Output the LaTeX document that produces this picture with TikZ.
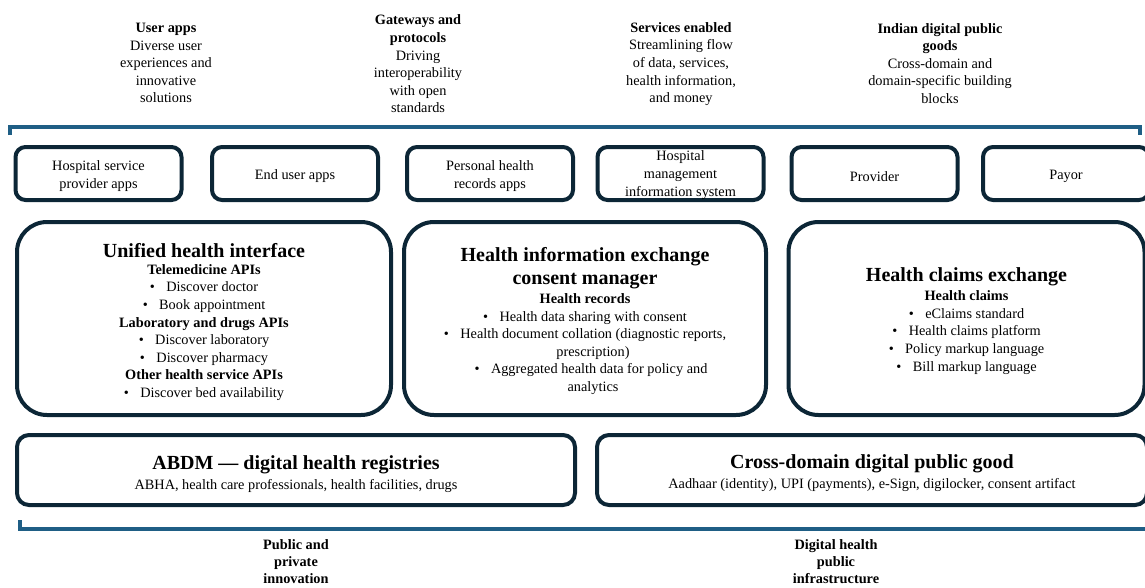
\documentclass[tikz,border=0pt]{standalone}
\usepackage{fontspec}
\setmainfont{Liberation Serif}
\definecolor{navy}{HTML}{0C2636}
\definecolor{bracketblue}{HTML}{1F5E85}
\newcommand{\bul}{\textbullet\hspace{0.8em}}
\begin{document}
\begin{tikzpicture}[x=1pt,y=-1pt,
  boxline/.style={draw=navy, line width=4pt, inner sep=0pt},
  appbox/.style={boxline, rounded corners=10pt, minimum width=166pt, minimum height=53pt},
  bigbox/.style={boxline, rounded corners=30pt, minimum height=193pt},
  regbox/.style={boxline, rounded corners=12pt, minimum height=70pt},
  body/.style={font=\fontsize{14.3}{17.6}\selectfont, align=center, inner sep=0pt, text=black},
  foot/.style={font=\fontsize{14.3}{17}\selectfont\bfseries, align=center, inner sep=0pt},
  apptext/.style={font=\fontsize{14.3}{18.5}\selectfont, align=center, inner sep=0pt},
  title/.style={font=\fontsize{20}{23}\selectfont\bfseries, align=center, inner sep=0pt},
  bracket/.style={draw=bracketblue, line width=3.6pt}]
\useasboundingbox (0,0) rectangle (1145,587);

% top headers
\node[body] (h1) at (166,63) {\textbf{User apps}\\Diverse user\\experiences and\\innovative\\solutions};
\node[body] (h2) at (418,64) {\textbf{Gateways and}\\\textbf{protocols}\\Driving\\interoperability\\with open\\standards};
\node[body] (h3) at (681,64) {\textbf{Services enabled}\\Streamlining flow\\of data, services,\\health information,\\and money};
\node[body] (h4) at (940,63.5) {\textbf{Indian digital public}\\\textbf{goods}\\Cross-domain and\\domain-specific building\\blocks};

% top bracket
\coordinate (tbL) at (10,135);
\coordinate (tbR) at (1140,135);
\draw[bracket] (tbL) -- (10,127) -- (1140,127) -- (tbR);

% row 1 app boxes
\node[appbox] (a1) at (98.5,173.5) {};
\node[appbox] (a2) at (295,173.5) {};
\node[appbox] (a3) at (490,173.5) {};
\node[appbox] (a4) at (680.5,173.5) {};
\node[appbox] (a5) at (874.5,173.5) {};
\node[appbox] (a6) at (1066,173.5) {};
\node[apptext] (t1) at (98.5,176) {Hospital service\\provider apps};
\node[apptext] (t2) at (295,176.5) {End user apps};
\node[apptext] (t3) at (490,176) {Personal health\\records apps};
\node[body] (t4) at (680.5,175) {Hospital\\management\\information system};
\node[apptext] (t5) at (874.5,176.5) {Provider};
\node[apptext] (t6) at (1066,176.5) {Payor};

% row 2 big boxes
\node[bigbox, minimum width=374pt] (bA) at (204,318.5) {};
\node[bigbox, minimum width=362pt] (bB) at (585,318.5) {};
\node[bigbox, minimum width=356pt] (bC) at (966.5,318.5) {};

\node[title] (tA) at (204,251) {Unified health interface};
\node[body] (lA) at (204,332.5) {\textbf{Telemedicine APIs}\\\bul Discover doctor\\\bul Book appointment\\\textbf{Laboratory and drugs APIs}\\\bul Discover laboratory\\\bul Discover pharmacy\\\textbf{Other health service APIs}\\\bul Discover bed availability};

\node[title] (tB) at (585,268.5) {Health information exchange\\consent manager};
\node[body] (lB) at (585,344) {\textbf{Health records}\\\bul Health data sharing with consent\\\bul Health document collation (diagnostic reports,\\\hspace*{16pt}prescription)\\\hspace*{12pt}\bul Aggregated health data for policy and\\\hspace*{16pt}analytics};

\node[title] (tC) at (966.5,276.5) {Health claims exchange};
\node[body] (lC) at (966.5,332.5) {\textbf{Health claims}\\\bul eClaims standard\\\bul Health claims platform\\\bul Policy markup language\\\bul Bill markup language};

% row 3
\node[regbox, minimum width=558pt] (bD) at (296,470) {};
\node[regbox, minimum width=550pt] (bE) at (872,470) {};
\node[title] (tD) at (296,464.5) {ABDM — digital health registries};
\node[body] (sD) at (296,485.5) {ABHA, health care professionals, health facilities, drugs};
\node[title] (tE) at (872,463.5) {Cross-domain digital public good};
\node[body] (sE) at (872,484.5) {Aadhaar (identity), UPI (payments), e-Sign, digilocker, consent artifact};

% bottom bracket
\coordinate (bbL) at (20,520);
\draw[bracket] (bbL) -- (20,529) -- (1150,529);

% bottom labels
\node[foot] (f1) at (296,561.5) {Public and\\private\\innovation};
\node[foot] (f2) at (836,561.5) {Digital health\\public\\infrastructure};
\end{tikzpicture}
\end{document}
